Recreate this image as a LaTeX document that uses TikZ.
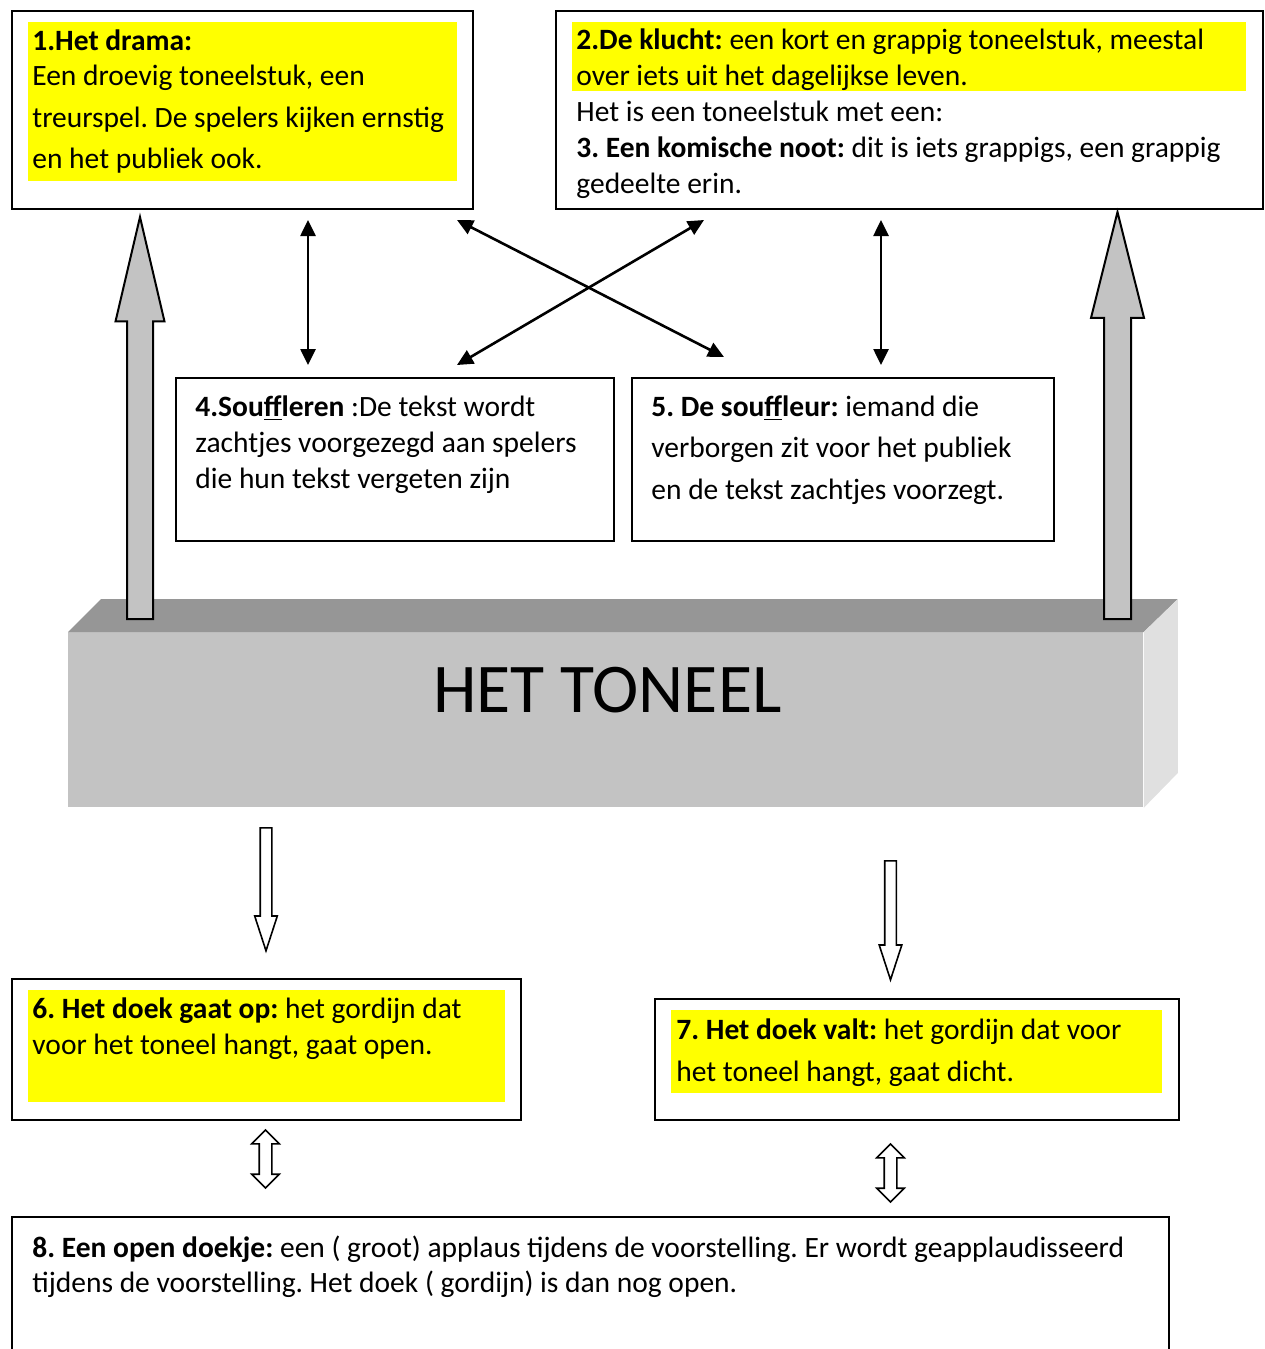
\documentclass[tikz,border=0pt]{standalone}
\usepackage{fontspec}
\setmainfont{Carlito}
\frenchspacing
\usetikzlibrary{arrows.meta,shapes.arrows,calc}
\definecolor{stagefront}{RGB}{195,195,195}
\definecolor{stagetop}{RGB}{150,150,150}
\definecolor{stageside}{RGB}{224,224,224}
\definecolor{marker}{RGB}{255,255,0}

\begin{document}
\begin{tikzpicture}
        [x=0.5pt, y=-0.5pt,
        box/.style={draw, line width=1pt, anchor=north west, inner sep=0},
        hilite/.style={fill=marker, anchor=north west, inner sep=0},
        txt/.style={anchor=north west, inner sep=0, align=left, font=\fontsize{14.75}{18}\selectfont},
        wide/.style={txt, font=\fontsize{14.75}{20.75}\selectfont},
        link/.style={line width=1.3pt, {Triangle[length=8pt,width=7.5pt]}-{Triangle[length=8pt,width=7.5pt]}},
        lift/.style={single arrow, draw, line width=1pt, fill=stagefront, rotate=90, inner xsep=0, anchor=tail},
        drop/.style={single arrow, draw, line width=0.8pt, fill=white, rotate=-90, inner xsep=0, inner ysep=2.5pt,
            single arrow head extend=2.75pt, single arrow tip angle=36, minimum width=10.5pt, anchor=tail},
        twoway/.style={double arrow, draw, line width=0.8pt, fill=white, rotate=90, inner xsep=0, inner ysep=2.75pt,
            double arrow head extend=3.75pt, double arrow tip angle=90, minimum width=13pt, minimum height=29pt}]

        \useasboundingbox (0,0) rectangle (1264,1349);

        % the boxes
        \node[box, minimum width=230.5pt, minimum height=99pt] (drama) at (11,10) {};
        \node[box, minimum width=353.5pt, minimum height=99pt] (klucht) at (555,10) {};
        \node[box, minimum width=219pt, minimum height=81.5pt] (souffleren) at (175,377) {};
        \node[box, minimum width=211pt, minimum height=81.5pt] (souffleur) at (631,377) {};
        \node[box, minimum width=254.5pt, minimum height=70.5pt] (doekop) at (11,978) {};
        \node[box, minimum width=262pt, minimum height=60.5pt] (doekvalt) at (654,998) {};
        \node[box, minimum width=578.5pt, minimum height=80pt] (doekje) at (11,1216) {};

        % yellow marker
        \node[hilite, minimum width=214.5pt, minimum height=79.5pt] (hl1) at ($(drama.north west)+(17,12)$) {};
        \node[hilite, minimum width=337pt, minimum height=34.5pt] (hl2) at ($(klucht.north west)+(17,12)$) {};
        \node[hilite, minimum width=238.5pt, minimum height=56pt] (hl6) at ($(doekop.north west)+(17,12)$) {};
        \node[hilite, minimum width=245.5pt, minimum height=41.5pt] (hl7) at ($(doekvalt.north west)+(17,12)$) {};

        % texts
        \node[wide] (t1) at ($(drama.north west)+(21,19)$) {\textbf{1.Het drama:}\\[-3pt]
            Een droevig toneelstuk, een\\
            treurspel. De spelers kijken ernstig\\
            en het publiek ook.};
        \node[txt] (t2) at ($(klucht.north west)+(21,18)$) {\textbf{2.De klucht:} een kort en grappig toneelstuk, meestal\\
            over iets uit het dagelijkse leven.\\
            Het is een toneelstuk met een:\\
            \textbf{3. Een komische noot:} dit is iets grappigs, een grappig\\
            gedeelte erin.};
        \node[txt] (t4) at ($(souffleren.north west)+(20,18)$) {\textbf{4.Sou\underline{ff}leren} :De tekst wordt\\
            zachtjes voorgezegd aan spelers\\
            die hun tekst vergeten zijn};
        \node[wide] (t5) at ($(souffleur.north west)+(20,18)$) {\textbf{5. De sou\underline{ff}leur:} iemand die\\
            verborgen zit voor het publiek\\
            en de tekst zachtjes voorzegt.};
        \node[txt] (t6) at ($(doekop.north west)+(21,19)$) {\textbf{6. Het doek gaat op:} het gordijn dat\\
            voor het toneel hangt, gaat open.};
        \node[txt, font=\fontsize{14.75}{21}\selectfont] (t7) at ($(doekvalt.north west)+(22,20)$) {\textbf{7. Het doek valt:} het gordijn dat voor\\
            het toneel hangt, gaat dicht.};
        \node[txt, font=\fontsize{14.75}{17.5}\selectfont] (t8) at ($(doekje.north west)+(21,20)$) {\textbf{8. Een open doekje:} een ( groot) applaus tijdens de voorstelling. Er wordt geapplaudisseerd\\
            tijdens de voorstelling. Het doek ( gordijn) is dan nog open.};

        % the stage block
        \node[anchor=north west, inner sep=0, fill=stagefront, minimum width=537.5pt, minimum height=87.5pt] (stage) at (68,632) {};
        \fill[stagetop] (stage.north west) -- ++(33,-33) -- ($(stage.north east)+(34,-33)$) -- (stage.north east) -- cycle;
        \fill[stageside] (stage.north east) -- ++(34,-33) -- ++(0,174) -- (stage.south east) -- cycle;
        \node[font=\fontsize{34.9}{38}\selectfont, inner sep=0] (toneel) at ($(stage.center)+(1.5,-29.5)$) {HET TONEEL};

        % grey arrows up
        \node[lift, minimum height=201pt, minimum width=23.5pt, inner ysep=6pt,
            single arrow head extend=5.75pt, single arrow tip angle=26.4] (upleft) at (140,620) {};
        \node[lift, minimum height=203.5pt, minimum width=25.5pt, inner ysep=6.25pt,
            single arrow head extend=6.5pt, single arrow tip angle=28.1] (upright) at (1117.5,620) {};

        % black arrows between the boxes
        \draw[link] ($(drama.south)+(65.5,10)$) -- ($(souffleren.north)+(-87,-12)$);
        \draw[link] ($(drama.south east)+(-17,10)$) -- ($(souffleur.north west)+(93,-20)$);
        \draw[link] ($(klucht.south west)+(149,10)$) -- ($(souffleren.north east)+(-158,-12)$);
        \draw[link] ($(klucht.south)+(-28.5,10)$) -- ($(souffleur.north)+(38,-12)$);

        % white arrows down
        \node[drop, minimum height=61.5pt] (downleft) at (266,827) {};
        \node[drop, minimum height=59.5pt] (downright) at (890.5,860) {};
        \node[twoway] (bothleft) at (265.5,1159) {};
        \node[twoway] (bothright) at (890.5,1173) {};

\end{tikzpicture}
\end{document}
